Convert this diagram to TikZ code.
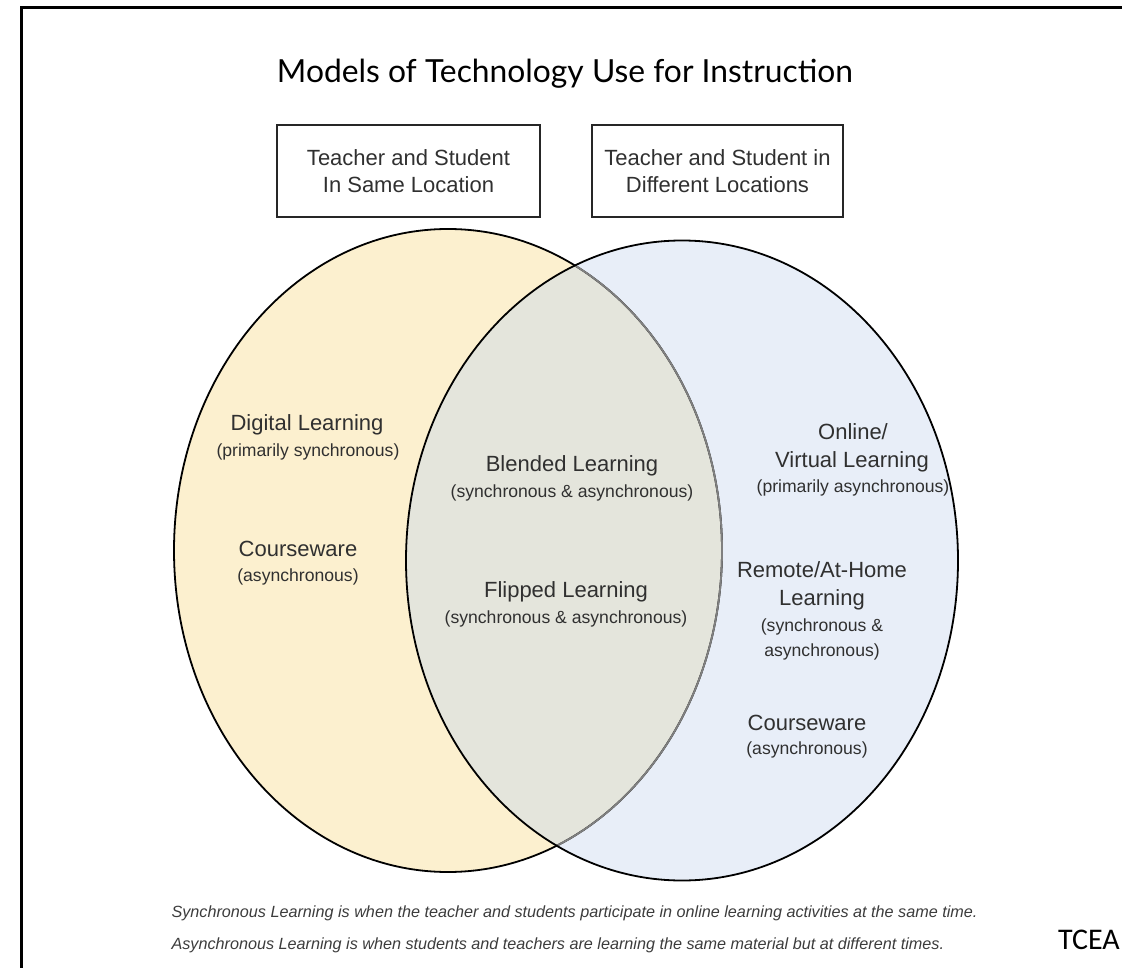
\documentclass[tikz,border=0pt]{standalone}
\usepackage{fontspec}
\setmainfont{Liberation Sans}
\newfontfamily\titlefont{Lato}
\newfontfamily\tceafont{Carlito}

\definecolor{yellowfill}{HTML}{FCF0CF}
\definecolor{bluefill}{HTML}{E8EEF8}
\definecolor{lensfill}{HTML}{E4E5DC}
\definecolor{textgray}{HTML}{303030}
\definecolor{notegray}{HTML}{3C3C3C}

\tikzset{
  leftset/.style={x radius=274pt, y radius=321.5pt},
  rightset/.style={x radius=276pt, y radius=320pt},
  placebox/.style={draw=black!85, line width=1.1pt, align=center, minimum height=92pt,
    font=\fontsize{22}{27}\selectfont, text=textgray},
  mainlbl/.style={font=\fontsize{22}{26}\selectfont, text=textgray},
  sublbl/.style={font=\fontsize{17.6}{21}\selectfont, text=textgray},
  notelbl/.style={anchor=west, font=\itshape\fontsize{16.2}{19}\selectfont, text=notegray}
}

\begin{document}
\begin{tikzpicture}[x=1pt,y=-1pt]
\useasboundingbox (0,0) rectangle (1122,968);

%frame
\draw[line width=3pt] (1122,8) -- (21,8) -- (21,968);

%title
\node (title) at (565,74) {\titlefont\fontsize{31.8}{36}\selectfont Models of Technology Use for Instruction};

%location boxes
\node[placebox, minimum width=263pt] (samebox) at (408.5,171) {Teacher and Student\\In Same Location};
\node[placebox, minimum width=251pt] (diffbox) at (717.5,171) {Teacher and Student in\\Different Locations};

%venn
\coordinate (leftc) at (448,550.5);
\coordinate (rightc) at (682,560.5);
\fill[yellowfill] (leftc) ellipse [leftset];
\fill[bluefill] (rightc) ellipse [rightset];
\begin{scope}
\clip (leftc) ellipse [leftset];
\fill[lensfill] (rightc) ellipse [rightset];
\end{scope}
\draw[line width=1.8pt] (leftc) ellipse [leftset];
\begin{scope}
\clip (rightc) ellipse [rightset];
\draw[line width=1.8pt, black!50] (leftc) ellipse [leftset];
\end{scope}
\draw[line width=1.8pt] (rightc) ellipse [rightset];

%same location
\node[mainlbl] (digital) at (307,425) {Digital Learning};
\node[sublbl] (digitalsub) at (308,452) {(primarily synchronous)};
\node[mainlbl] (coursel) at (298,549) {Courseware};
\node[sublbl] (courselsub) at (298,577) {(asynchronous)};

%both
\node[mainlbl] (blended) at (572,466) {Blended Learning};
\node[sublbl] (blendedsub) at (572,493) {(synchronous \& asynchronous)};
\node[mainlbl] (flipped) at (566,592) {Flipped Learning};
\node[sublbl] (flippedsub) at (566,619) {(synchronous \& asynchronous)};

%different locations
\node[mainlbl] (online) at (853,432) {Online/};
\node[mainlbl] (virtual) at (852,462) {Virtual Learning};
\node[sublbl] (virtualsub) at (853,488) {(primarily asynchronous)};
\node[mainlbl] (remote) at (822,570) {Remote/At-Home};
\node[mainlbl] (remotelrn) at (822,600) {Learning};
\node[sublbl] (remotesub) at (822,627) {(synchronous \&};
\node[sublbl] (remotesubb) at (822,652) {asynchronous)};
\node[mainlbl] (courser) at (807,723) {Courseware};
\node[sublbl] (coursersub) at (807,750) {(asynchronous)};

%notes
\node[notelbl] (syncnote) at (168,913) {Synchronous Learning is when the teacher and students participate in online learning activities at the same time.};
\node[notelbl] (asyncnote) at (168,945) {Asynchronous Learning is when students and teachers are learning the same material but at different times.};
\node (tcea) at (1089,940) {\tceafont\fontsize{30}{34}\selectfont TCEA};

\end{tikzpicture}
\end{document}
